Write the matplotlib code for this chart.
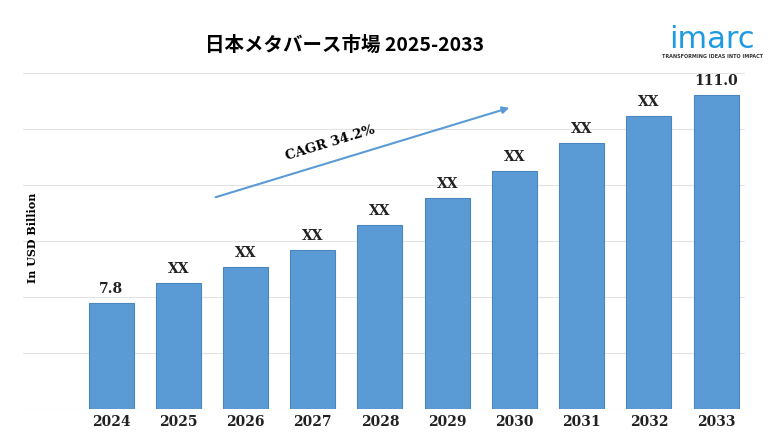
import matplotlib
matplotlib.use("Agg")
import matplotlib.pyplot as plt

years = ["2024","2025","2026","2027","2028","2029","2030","2031","2032","2033"]
heights = [37.4, 44.5, 50.3, 56.2, 65.1, 74.6, 84.1, 94.0, 103.5, 111.0]
labels = ["7.8","XX","XX","XX","XX","XX","XX","XX","XX","111.0"]

W, H = 768, 432
fig = plt.figure(figsize=(W/100, H/100), dpi=100)
ax = fig.add_axes([23/W, (H-409)/H, (745-23)/W, (409-73)/H])
x = list(range(len(years)))
ax.bar(x, heights, width=0.67, color="#5b9bd5", edgecolor="#4a86bf", linewidth=0.8, zorder=3)
for xi, h, l in zip(x, heights, labels):
    ax.text(xi, h + 2.5, l, ha="center", va="bottom", fontsize=10, fontweight="bold",
            family="DejaVu Serif", color="#222222")
ax.set_xlim(-1.31, 9.43)
ax.set_ylim(0, 118.8)
ax.set_yticks([19.8*i for i in range(7)])
ax.yaxis.grid(True, color="#e3e3e3", linewidth=0.8, zorder=0)
ax.tick_params(axis="y", left=False, labelleft=False)
ax.tick_params(axis="x", length=0, pad=4)
ax.set_xticks(x)
ax.set_xticklabels(years, fontsize=10, fontweight="bold", family="DejaVu Serif", color="#222222")
for s in ax.spines.values():
    s.set_visible(False)

fig.text(32/W, 1-238/H, "In USD Billion", rotation=90, ha="center", va="center",
         fontsize=8, fontweight="bold", family="DejaVu Serif")
fig.text(345/W, 1-45/H, "日本メタバース市場 2025-2033", ha="center", va="center",
         fontsize=14, fontweight="bold", family="Noto Sans CJK JP")
ax.annotate("", xy=(512/W, 1-107/H), xytext=(213/W, 1-198/H),
            xycoords="figure fraction", textcoords="figure fraction",
            arrowprops=dict(arrowstyle="-|>", color="#5b9bd5", lw=1.5, mutation_scale=10))
fig.text(330/W, 1-143/H, "CAGR 34.2%", rotation=17, ha="center", va="center",
         fontsize=9.5, fontweight="bold", family="DejaVu Serif")
fig.text(712/W, 1-40/H, "imarc", ha="center", va="center", fontsize=22,
         color="#1e9be0", family="DejaVu Sans")
fig.text(712/W, 1-57/H, "TRANSFORMING IDEAS INTO IMPACT", ha="center", va="center",
         fontsize=3.5, fontweight="bold", color="#333333")
fig.savefig("out.png", dpi=100)
